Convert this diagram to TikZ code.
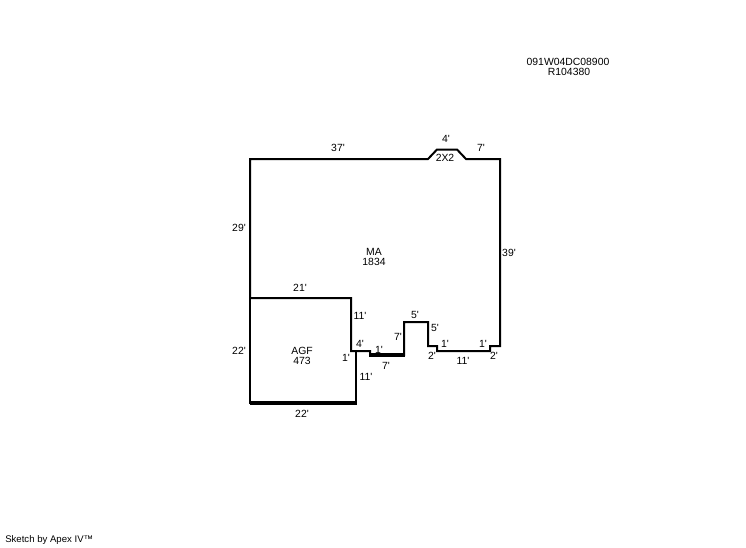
\documentclass[tikz,border=0pt]{standalone}
\usepackage{fontspec}
\setmainfont[Ligatures=TeXOff]{Liberation Sans}
\begin{document}
\begin{tikzpicture}[x=0.75pt,y=-0.75pt,
  wall/.style={draw=black,line width=1.5pt,line cap=butt,line join=miter},
  thickwall/.style={draw=black,line width=2.5pt,line cap=butt},
  lbl/.style={inner sep=0pt,font=\fontsize{7.8}{9}\selectfont,text=black,anchor=center,align=center}]
\useasboundingbox[fill=white] (0,0) rectangle (746,547);
% main area outline
\draw[wall] (351,298) -- (250,298) -- (250,159) -- (428,159) -- (437,149.5) -- (457,149.5) -- (466,159)
  -- (500,159) -- (500,346) -- (490,346) -- (490,351) -- (437,351) -- (437,346) -- (428,346)
  -- (428,322) -- (404,322) -- (404,355) -- (370,355) -- (370,351) -- (351,351) -- cycle;
% garage
\draw[wall] (250,298) -- (250,403) -- (356,403) -- (356,351) -- (351,351);
\draw[thickwall] (250,403) -- (357,403);
\draw[thickwall] (369,355) -- (405,355);
% labels
\node[lbl] (t1) at (568,62) {091W04DC08900};
\node[lbl] (t2) at (569,72) {R104380};
\node[lbl] (l37) at (338,148) {37'};
\node[lbl] (l4a) at (446,139) {4'};
\node[lbl] (l7a) at (481,148) {7'};
\node[lbl] (l2x2) at (445,158) {2X2};
\node[lbl] (l29) at (239,228) {29'};
\node[lbl] (l39) at (509,253) {39'};
\node[lbl] (ma) at (374,252) {MA};
\node[lbl] (man) at (374,262) {1834};
\node[lbl] (l21) at (300,288) {21'};
\node[lbl] (l11a) at (360,316) {11'};
\node[lbl] (l22a) at (239,351) {22'};
\node[lbl] (agf) at (302,351) {AGF};
\node[lbl] (agfn) at (302,361) {473};
\node[lbl] (l1a) at (346,358) {1'};
\node[lbl] (l4b) at (360,344) {4'};
\node[lbl] (l1b) at (379,350) {1'};
\node[lbl] (l7b) at (398,337) {7'};
\node[lbl] (l5a) at (415,315) {5'};
\node[lbl] (l5b) at (435,328) {5'};
\node[lbl] (l1c) at (445,344) {1'};
\node[lbl] (l1d) at (483,344) {1'};
\node[lbl] (l2a) at (432,356) {2'};
\node[lbl] (l2b) at (494,356) {2'};
\node[lbl] (l7c) at (386,366) {7'};
\node[lbl] (l11b) at (463,361) {11'};
\node[lbl] (l11c) at (366,377) {11'};
\node[lbl] (l22b) at (302,414) {22'};
\node[lbl,anchor=west,font=\fontsize{7.2}{8}\selectfont] (sk) at (5,540) {Sketch by Apex IV™};
\end{tikzpicture}
\end{document}
